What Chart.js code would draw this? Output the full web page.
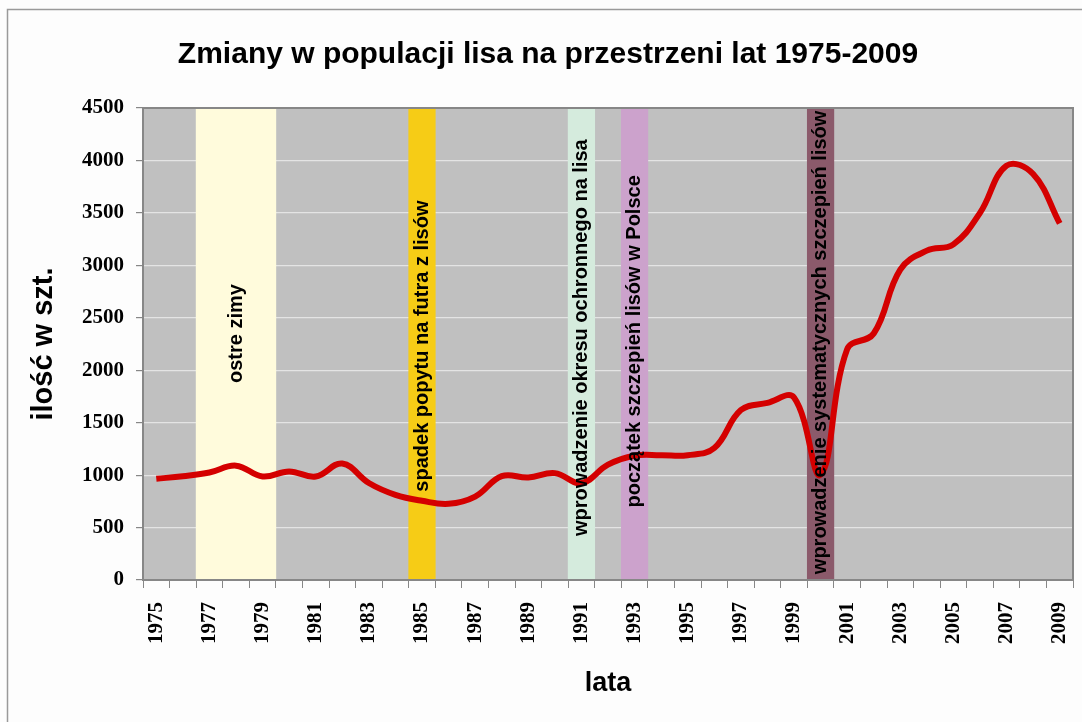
<!DOCTYPE html>
<html>
<head>
<meta charset="utf-8">
<title>Zmiany w populacji lisa</title>
<script src="https://cdn.jsdelivr.net/npm/chart.js@4.4.0/dist/chart.umd.min.js"></script>
<style>
  html, body { margin: 0; padding: 0; background: #fdfdfd; }
  #wrap { width: 1082px; height: 722px; position: relative; }
</style>
</head>
<body>
<div id="wrap"><canvas id="chart-area"></canvas></div>
<script>
var years = ['1975', '1976', '1977', '1978', '1979', '1980', '1981', '1982', '1983', '1984',
             '1985', '1986', '1987', '1988', '1989', '1990', '1991', '1992', '1993', '1994',
             '1995', '1996', '1997', '1998', '1999', '2000', '2001', '2002', '2003', '2004',
             '2005', '2006', '2007', '2008', '2009'];
var foxes = [965, 990, 1025, 1090, 987, 1035, 987, 1110, 925, 812,
             755, 726, 795, 990, 977, 1019, 924, 1100, 1185, 1190,
             1190, 1258, 1620, 1688, 1740, 1005, 2200, 2350, 2960, 3140,
             3200, 3500, 3950, 3870, 3400];

// coloured vertical bands (full height of the value axis)
var bandYears = ['1977', '1978', '1979', '1985', '1991', '1993', '2000'];
var bandColors = ['#fffbdc', '#fffbdc', '#fffbdc', '#f6cc16', '#d5ebdd', '#cca2cc', '#8b5a6b'];
var bandTop = 4500;

var eventLabels = ['ostre zimy', 'spadek popytu na futra z lisów', 'wprowadzenie okresu ochronnego na lisa',
                   'początek szczepień lisów w Polsce', 'wprowadzenie systematycznych szczepień lisów'];
var eventLabelYears = ['1978', '1985', '1991', '1993', '2000'];
var eventLabelCentres = [2350, 2230, 2310, 2275, 2265];

var bandData = years.map(function(y) { return bandYears.indexOf(y) >= 0 ? bandTop : null; });
var bandFill = years.map(function(y) {
  var i = bandYears.indexOf(y);
  return i >= 0 ? bandColors[i] : 'rgba(0,0,0,0)';
});

var sans = "'Liberation Sans', Arial, sans-serif";
var serif = "'Liberation Serif', 'Times New Roman', serif";

var frame = {
  id: 'frame',
  beforeDraw: function(chart) {
    var ctx = chart.ctx, a = chart.chartArea;
    ctx.save();
    ctx.fillStyle = '#fdfdfd';
    ctx.fillRect(0, 0, chart.width, chart.height);
    ctx.strokeStyle = '#9a9a9a';
    ctx.lineWidth = 1.5;
    ctx.beginPath();
    ctx.moveTo(7.5, chart.height);
    ctx.lineTo(7.5, 9.5);
    ctx.lineTo(chart.width, 9.5);
    ctx.stroke();
    ctx.fillStyle = '#c0c0c0';
    ctx.fillRect(a.left, a.top, a.right - a.left, a.bottom - a.top);
    ctx.restore();
  },
  afterDatasetsDraw: function(chart) {
    var ctx = chart.ctx, a = chart.chartArea;
    var xs = chart.scales.x, ys = chart.scales.y;
    ctx.save();
    ctx.strokeStyle = '#878787';
    ctx.lineWidth = 2;
    ctx.strokeRect(a.left, a.top, a.right - a.left, a.bottom - a.top);
    ctx.lineWidth = 1;
    ctx.beginPath();
    ctx.moveTo(a.right + 0.5, a.bottom);
    ctx.lineTo(a.right + 0.5, a.bottom + 8);
    ctx.stroke();

    ctx.fillStyle = '#000';
    ctx.font = 'bold 20px ' + sans;
    ctx.textAlign = 'center';
    ctx.textBaseline = 'middle';
    eventLabels.forEach(function(t, i) {
      var x = xs.getPixelForValue(years.indexOf(eventLabelYears[i]));
      var y = ys.getPixelForValue(eventLabelCentres[i]);
      ctx.save();
      ctx.translate(x, y);
      ctx.rotate(-Math.PI / 2);
      ctx.fillText(t, 0, 0);
      ctx.restore();
    });
    ctx.restore();
  }
};

var config = {
  type: 'bar',
  data: {
    labels: years,
    datasets: [{
      type: 'line',
      label: 'populacja lisa',
      data: foxes,
      borderColor: '#d40000',
      borderWidth: 6,
      pointRadius: 0,
      tension: 0.4,
      fill: false,
      order: 0
    }, {
      type: 'bar',
      label: 'okresy',
      data: bandData,
      backgroundColor: bandFill,
      borderWidth: 0,
      barPercentage: 1,
      categoryPercentage: 1,
      order: 1
    }]
  },
  options: {
    responsive: true,
    maintainAspectRatio: false,
    animation: false,
    layout: { padding: { left: 23, right: 9, top: 0, bottom: 0 } },
    plugins: {
      legend: { display: false },
      tooltip: { enabled: false },
      title: {
        display: true,
        text: 'Zmiany w populacji lisa na przestrzeni lat 1975-2009',
        color: '#000',
        font: { family: sans, size: 30, weight: 'bold' },
        padding: { top: 37, bottom: 35 }
      }
    },
    scales: {
      x: {
        offset: true,
        grid: { offset: true, drawOnChartArea: false, drawTicks: true, tickLength: 8, tickColor: '#878787' },
        border: { display: false },
        ticks: {
          autoSkip: false,
          minRotation: 90,
          maxRotation: 90,
          padding: 14,
          color: '#000',
          font: { family: serif, size: 21, weight: 'bold' },
          callback: function(value, index) {
            return index % 2 === 0 ? this.getLabelForValue(value) : '';
          }
        },
        title: {
          display: true,
          text: 'lata',
          color: '#000',
          font: { family: sans, size: 27, weight: 'bold' },
          padding: { top: 0, bottom: 22 }
        },
        afterFit: function(s) {
          s.height = 142;
          s.paddingLeft = 0;
          s.paddingRight = 0;
        }
      },
      y: {
        min: 0,
        max: 4500,
        grid: { color: '#e4e4e4', lineWidth: 1.2, tickLength: 7, tickColor: '#878787' },
        border: { display: false },
        ticks: {
          stepSize: 500,
          padding: 12,
          color: '#000',
          font: { family: serif, size: 21, weight: 'bold' },
          callback: function(value) { return String(value); }
        },
        title: {
          display: true,
          text: 'ilość w szt.',
          color: '#000',
          font: { family: sans, size: 29, weight: 'bold' },
          padding: { top: 4, bottom: 0 }
        },
        afterFit: function(s) {
          s.width = 120;
          s.paddingTop = 0;
          s.paddingBottom = 0;
        }
      }
    }
  },
  plugins: [frame]
};

window.onload = function() {
  var ctx = document.getElementById('chart-area').getContext('2d');
  window.foxChart = new Chart(ctx, config);
};
</script>
</body>
</html>
